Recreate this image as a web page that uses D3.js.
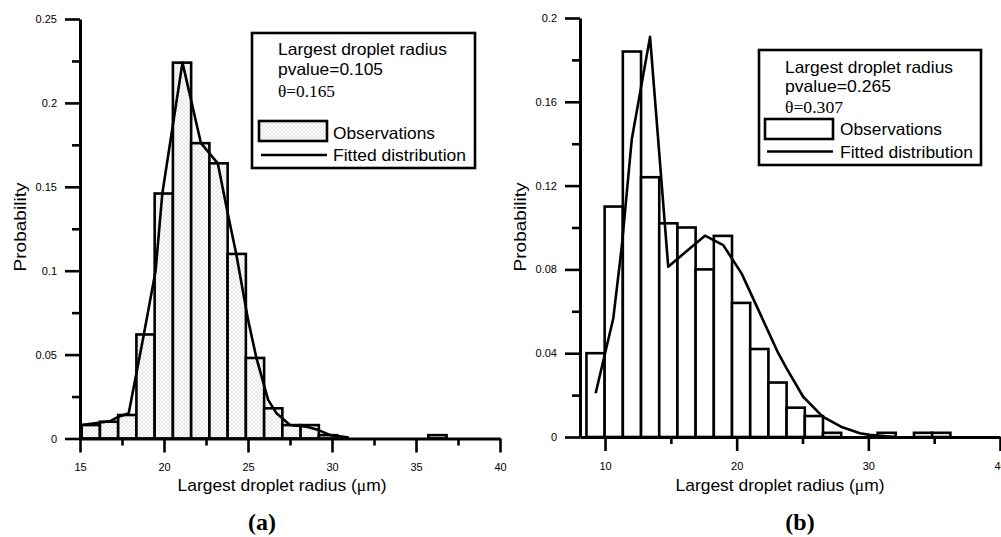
<!DOCTYPE html>
<html>
<head>
<meta charset="utf-8">
<script src="https://cdnjs.cloudflare.com/ajax/libs/d3/7.8.5/d3.min.js"></script>
<style>
  html, body { margin: 0; padding: 0; background: #fff; }
  svg { display: block; }
  .sans { font-family: "Liberation Sans", Arial, sans-serif; }
  .serif { font-family: "Liberation Serif", "Times New Roman", serif; }
</style>
</head>
<body>
<svg id="chart" width="1001" height="537"></svg>
<script>
// ---------------- DATA ----------------
// Panel (a): histogram bins (start, width) and observed probabilities
const aBinStart = 15.1;
const aBinWidth = 1.086;
const aProb = [0.008, 0.010, 0.014, 0.062, 0.146, 0.224, 0.176, 0.164, 0.110, 0.048,
               0.018, 0.008, 0.008, 0.002, 0, 0, 0, 0, 0, 0.002];
// Panel (a): fitted distribution
const aFitX = [15.1, 16.2, 16.8, 17.3, 17.9, 18.8, 19.5, 19.9, 21.1, 22.2, 23.2, 23.8,
               24.3, 25.0, 25.5, 26.2, 26.7, 27.5, 28.5, 29.2, 29.9, 31.0];
const aFitY = [0.008, 0.0095, 0.0103, 0.013, 0.015, 0.062, 0.100, 0.146, 0.224, 0.176, 0.164, 0.134,
               0.110, 0.071, 0.048, 0.023, 0.015, 0.008, 0.007, 0.005, 0.002, 0.0005];
const aXMajor = [15, 20, 25, 30, 35, 40];
const aXMinor = [17.5, 22.5, 27.5, 32.5, 37.5];
const aYMajor = [0, 0.05, 0.1, 0.15, 0.2, 0.25];
const aYMajorLabels = ["0", "0.05", "0.1", "0.15", "0.2", "0.25"];
const aYMinor = [0.025, 0.075, 0.125, 0.175, 0.225];
const aLegend = ["Largest droplet radius", "pvalue=0.105", "\u03B8=0.165"];

// Panel (b)
const bBinStart = 8.59;
const bBinWidth = 1.382;
const bProb = [0.040, 0.110, 0.184, 0.124, 0.102, 0.100, 0.080, 0.096, 0.064, 0.042,
               0.026, 0.014, 0.010, 0.002, 0, 0, 0.002, 0, 0.002, 0.002];
const bFitX = [9.29, 10.63, 11.27, 12.03, 13.42, 14.8, 17.59, 18.98, 20.38, 21.77, 23.16,
               23.79, 25.05, 26.53, 27.92, 29.36, 30.1, 32.0];
const bFitY = [0.0209, 0.0567, 0.0908, 0.142, 0.191, 0.0813, 0.0961, 0.0916, 0.078, 0.059, 0.040,
               0.0328, 0.0192, 0.0097, 0.0049, 0.0018, 0.001, 0.0];
const bXMajor = [10, 20, 30, 40];
const bXMinor = [15, 25, 35];
const bYMajor = [0, 0.04, 0.08, 0.12, 0.16, 0.2];
const bYMajorLabels = ["0", "0.04", "0.08", "0.12", "0.16", "0.2"];
const bYMinor = [0.02, 0.06, 0.1, 0.14, 0.18];
const bLegend = ["Largest droplet radius", "pvalue=0.265", "\u03B8=0.307"];

const xTitle = "Largest droplet radius (";
const xTitleMu = "\u03BC";
const xTitleEnd = "m)";
const yTitle = "Probability";
const legendObs = "Observations";
const legendFit = "Fitted distribution";

// ---------------- DRAW ----------------
const svg = d3.select("#chart");
const defs = svg.append("defs");
const pat = defs.append("pattern").attr("id", "hatch")
  .attr("patternUnits", "userSpaceOnUse").attr("width", 4).attr("height", 4);
pat.append("rect").attr("width", 4).attr("height", 4).attr("fill", "#fbfbfb");
pat.append("path").attr("d", "M0,0L4,4M4,0L0,4").attr("stroke", "#d6d6d6").attr("stroke-width", 0.5);

function panel(cfg) {
  const g = svg.append("g");
  const x = d3.scaleLinear().domain(cfg.xDomain).range(cfg.xRange);
  const y = d3.scaleLinear().domain(cfg.yDomain).range(cfg.yRange);

  // bars
  const bins = cfg.prob.map((p, i) => ({
    x0: cfg.binStart + i * cfg.binWidth,
    x1: cfg.binStart + (i + 1) * cfg.binWidth,
    p
  })).filter(d => d.p > 0);
  g.append("g").selectAll("rect").data(bins).join("rect")
    .attr("x", d => x(d.x0))
    .attr("width", d => x(d.x1) - x(d.x0))
    .attr("y", d => y(d.p))
    .attr("height", d => y(0) - y(d.p))
    .attr("fill", cfg.barFill)
    .attr("stroke", "#000")
    .attr("stroke-width", 2.6);

  // fitted line
  const pts = cfg.fitX.map((v, i) => [v, cfg.fitY[i]]);
  g.append("path")
    .attr("d", d3.line().x(d => x(d[0])).y(d => y(d[1]))(pts))
    .attr("fill", "none").attr("stroke", "#000").attr("stroke-width", 2.6)
    .attr("stroke-linejoin", "round");

  // axes
  const y0 = cfg.yRange[0], x0 = cfg.xRange[0];
  const xMaj = g.append("g").attr("transform", `translate(0,${y0})`)
    .call(d3.axisBottom(x).tickValues(cfg.xMajor).tickSize(14).tickSizeOuter(0).tickPadding(11)
      .tickFormat(d3.format("d")));
  const xMin = g.append("g").attr("transform", `translate(0,${y0})`)
    .call(d3.axisBottom(x).tickValues(cfg.xMinor).tickSize(7).tickSizeOuter(0).tickFormat(""));
  const yMaj = g.append("g").attr("transform", `translate(${x0},0)`)
    .call(d3.axisLeft(y).tickValues(cfg.yMajor).tickSize(15).tickSizeOuter(0).tickPadding(8)
      .tickFormat((d, i) => cfg.yLabels[i]));
  const yMin = g.append("g").attr("transform", `translate(${x0},0)`)
    .call(d3.axisLeft(y).tickValues(cfg.yMinor).tickSize(8).tickSizeOuter(0).tickFormat(""));
  [xMaj, xMin, yMaj, yMin].forEach(a => {
    a.select(".domain").attr("stroke-width", 3).attr("stroke", "#000");
    a.selectAll(".tick line").attr("stroke-width", 2.6).attr("stroke", "#000");
    a.selectAll(".tick text").attr("class", "sans").attr("font-size", 11).attr("fill", "#000");
  });
  xMin.select(".domain").remove();
  yMin.select(".domain").remove();

  // axis titles
  const xt = g.append("text").attr("class", "sans").attr("font-size", 17)
    .attr("x", cfg.xTitleX).attr("y", 491).attr("text-anchor", "middle")
    .attr("textLength", 209).attr("lengthAdjust", "spacingAndGlyphs");
  xt.append("tspan").text(xTitle);
  xt.append("tspan").attr("class", "serif").text(xTitleMu);
  xt.append("tspan").text(xTitleEnd);

  g.append("text").attr("class", "sans").attr("font-size", 17)
    .attr("transform", `translate(${cfg.yTitleX},227) rotate(-90)`)
    .attr("text-anchor", "middle")
    .attr("textLength", 89).attr("lengthAdjust", "spacingAndGlyphs").text(yTitle);

  g.append("text").attr("class", "serif").attr("font-size", 24).attr("font-weight", "bold")
    .attr("x", cfg.labelX).attr("y", 530).attr("text-anchor", "middle").text(cfg.panelLabel);

  // legend
  const L = cfg.legend;
  g.append("rect").attr("x", L.x).attr("y", L.y).attr("width", L.w).attr("height", L.h)
    .attr("fill", "#fff").attr("stroke", "#000").attr("stroke-width", 2.6);
  cfg.legendText.forEach((t, i) => {
    g.append("text").attr("class", i === 2 ? "serif" : "sans")
      .attr("font-size", 16.5)
      .attr("x", L.tx).attr("y", L.ty[i])
      .attr("textLength", L.tl[i]).attr("lengthAdjust", "spacingAndGlyphs").text(t);
  });
  g.append("rect").attr("x", L.sx).attr("y", L.sy).attr("width", 68).attr("height", 20)
    .attr("fill", cfg.barFill).attr("stroke", "#000").attr("stroke-width", 2.6);
  g.append("text").attr("class", "sans").attr("font-size", 16.5)
    .attr("x", L.ox).attr("y", L.oy)
    .attr("textLength", 102).attr("lengthAdjust", "spacingAndGlyphs").text(legendObs);
  g.append("line").attr("x1", L.sx + 2).attr("x2", L.sx + 68).attr("y1", L.ly).attr("y2", L.ly)
    .attr("stroke", "#000").attr("stroke-width", 2.6);
  g.append("text").attr("class", "sans").attr("font-size", 16.5)
    .attr("x", L.ox).attr("y", L.fy)
    .attr("textLength", 133).attr("lengthAdjust", "spacingAndGlyphs").text(legendFit);
}

panel({
  xDomain: [15, 40], xRange: [80, 500],
  yDomain: [0, 0.25], yRange: [438.5, 19],
  binStart: aBinStart, binWidth: aBinWidth, prob: aProb,
  fitX: aFitX, fitY: aFitY,
  xMajor: aXMajor, xMinor: aXMinor, yMajor: aYMajor, yLabels: aYMajorLabels, yMinor: aYMinor,
  barFill: "url(#hatch)",
  xTitleX: 282, yTitleX: 26, labelX: 262, panelLabel: "(a)",
  legendText: aLegend,
  legend: { x: 252, y: 33, w: 223, h: 135, tx: 278, ty: [55, 75, 96.5], tl: [169, 105, 57],
            sx: 259, sy: 121, ox: 333, oy: 139, ly: 155, fy: 161 }
});

panel({
  xDomain: [8.1, 40], xRange: [580, 1000],
  yDomain: [0, 0.2], yRange: [437, 18],
  binStart: bBinStart, binWidth: bBinWidth, prob: bProb,
  fitX: bFitX, fitY: bFitY,
  xMajor: bXMajor, xMinor: bXMinor, yMajor: bYMajor, yLabels: bYMajorLabels, yMinor: bYMinor,
  barFill: "#fff",
  xTitleX: 780, yTitleX: 526, labelX: 800, panelLabel: "(b)",
  legendText: bLegend,
  legend: { x: 759, y: 50, w: 222, h: 115, tx: 785, ty: [72.5, 91.5, 113], tl: [168, 106, 58],
            sx: 765, sy: 119, ox: 840, oy: 135, ly: 151.5, fy: 157.5 }
});
</script>
</body>
</html>
